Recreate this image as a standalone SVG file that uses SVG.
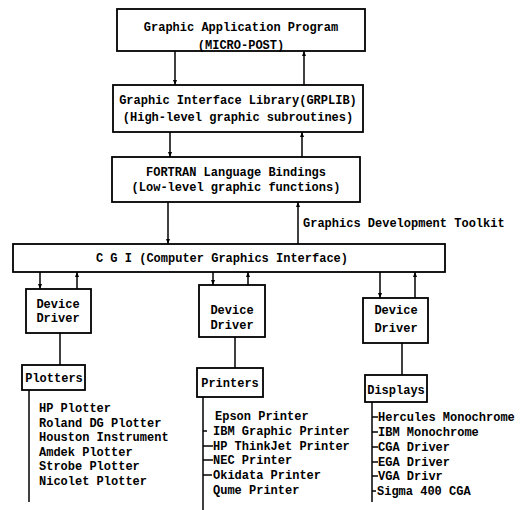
<svg xmlns="http://www.w3.org/2000/svg" width="527" height="510" viewBox="0 0 527 510">
<style>
.box{fill:#fff;stroke:#000;stroke-width:1.8}
.ln{stroke:#000;stroke-width:1.5;fill:none}
text{font-family:"Liberation Mono","DejaVu Sans Mono",monospace;font-weight:bold;font-size:12px;fill:#000}
.c{text-anchor:middle}
</style>
<defs>
<marker id="ah" viewBox="0 0 10 10" refX="10" refY="5" markerWidth="5" markerHeight="6" orient="auto" markerUnits="userSpaceOnUse">
<path d="M0,1 L10,5 L0,9 Z" fill="#000"/>
</marker>
</defs>
<rect width="527" height="510" fill="#fff"/>
<g id="connectors">
<line class="ln" x1="175" y1="51" x2="175" y2="85" marker-end="url(#ah)"/>
<line class="ln" x1="304" y1="85" x2="304" y2="51" marker-end="url(#ah)"/>
<line class="ln" x1="170" y1="132" x2="170" y2="157" marker-end="url(#ah)"/>
<line class="ln" x1="302" y1="157" x2="302" y2="132" marker-end="url(#ah)"/>
<line class="ln" x1="168" y1="202" x2="168" y2="244" marker-end="url(#ah)"/>
<line class="ln" x1="298" y1="244" x2="298" y2="202" marker-end="url(#ah)"/>
<line class="ln" x1="40" y1="272" x2="40" y2="289" marker-end="url(#ah)"/>
<line class="ln" x1="77" y1="289" x2="77" y2="272" marker-end="url(#ah)"/>
<line class="ln" x1="213" y1="272" x2="213" y2="285" marker-end="url(#ah)"/>
<line class="ln" x1="248" y1="285" x2="248" y2="272" marker-end="url(#ah)"/>
<line class="ln" x1="380" y1="272" x2="380" y2="298" marker-end="url(#ah)"/>
<line class="ln" x1="415" y1="298" x2="415" y2="272" marker-end="url(#ah)"/>
<line class="ln" x1="60" y1="333" x2="60" y2="365"/>
<line class="ln" x1="235" y1="337" x2="235" y2="368"/>
<line class="ln" x1="402" y1="343" x2="402" y2="375"/>
<line class="ln" x1="29" y1="390" x2="29" y2="502"/>
<line class="ln" x1="203" y1="397" x2="203" y2="510"/>
<line class="ln" x1="372" y1="402" x2="372" y2="502"/>
<line class="ln" x1="203" y1="431" x2="207" y2="431"/>
<line class="ln" x1="203" y1="446" x2="213" y2="446"/>
<line class="ln" x1="203" y1="460" x2="213" y2="460"/>
<line class="ln" x1="203" y1="475" x2="212" y2="475"/>
<line class="ln" x1="372" y1="417" x2="378" y2="417"/>
<line class="ln" x1="372" y1="432" x2="378" y2="432"/>
<line class="ln" x1="372" y1="447" x2="378" y2="447"/>
<line class="ln" x1="372" y1="462" x2="378" y2="462"/>
<line class="ln" x1="372" y1="476" x2="378" y2="476"/>
<line class="ln" x1="372" y1="491" x2="376" y2="491"/>
</g>
<g id="app">
<rect class="box" x="117" y="9" width="248" height="42"/>
<text class="c" x="241" y="31">Graphic Application Program</text>
<text class="c" x="241" y="49">(MICRO-POST)</text>
</g>
<g id="grplib">
<rect class="box" x="113" y="85" width="250" height="47"/>
<text class="c" x="238" y="104">Graphic Interface Library(GRPLIB)</text>
<text class="c" x="238" y="121">(High-level graphic subroutines)</text>
</g>
<g id="fortran">
<rect class="box" x="112" y="157" width="248" height="45"/>
<text class="c" x="236" y="176">FORTRAN Language Bindings</text>
<text class="c" x="236" y="191">(Low-level graphic functions)</text>
</g>
<g id="toolkit-label">
<text x="303" y="227">Graphics Development Toolkit</text>
</g>
<g id="cgi">
<rect class="box" x="13" y="244" width="432" height="28"/>
<text class="c" x="222" y="262">C G I (Computer Graphics Interface)</text>
</g>
<g id="dd1">
<rect class="box" x="26" y="289" width="65" height="44"/>
<text class="c" x="58" y="308">Device</text>
<text class="c" x="58" y="322">Driver</text>
</g>
<g id="dd2">
<rect class="box" x="199" y="285" width="66" height="52"/>
<text class="c" x="232" y="314">Device</text>
<text class="c" x="232" y="329">Driver</text>
</g>
<g id="dd3">
<rect class="box" x="363" y="298" width="65" height="45"/>
<text class="c" x="396" y="314">Device</text>
<text class="c" x="396" y="332">Driver</text>
</g>
<g id="plotters">
<rect class="box" x="22" y="365" width="63" height="25"/>
<text class="c" x="54" y="382">Plotters</text>
</g>
<g id="printers">
<rect class="box" x="197" y="368" width="66" height="29"/>
<text class="c" x="230" y="387">Printers</text>
</g>
<g id="displays">
<rect class="box" x="365" y="375" width="62" height="27"/>
<text class="c" x="396" y="394">Displays</text>
</g>
<g id="plotter-list">
<text x="39" y="412">HP Plotter</text>
<text x="39" y="427">Roland DG Plotter</text>
<text x="39" y="441">Houston Instrument</text>
<text x="39" y="456">Amdek Plotter</text>
<text x="39" y="470">Strobe Plotter</text>
<text x="39" y="485">Nicolet Plotter</text>
</g>
<g id="printer-list">
<text x="215" y="420">Epson Printer</text>
<text x="213" y="435">IBM Graphic Printer</text>
<text x="213" y="450">HP ThinkJet Printer</text>
<text x="213" y="464">NEC Printer</text>
<text x="213" y="479">Okidata Printer</text>
<text x="213" y="494">Qume Printer</text>
</g>
<g id="display-list">
<text x="378" y="421">Hercules Monochrome</text>
<text x="378" y="436">IBM Monochrome</text>
<text x="378" y="451">CGA Driver</text>
<text x="378" y="466">EGA Driver</text>
<text x="378" y="480">VGA Drivr</text>
<text x="377" y="495">Sigma 400 CGA</text>
</g>
</svg>
